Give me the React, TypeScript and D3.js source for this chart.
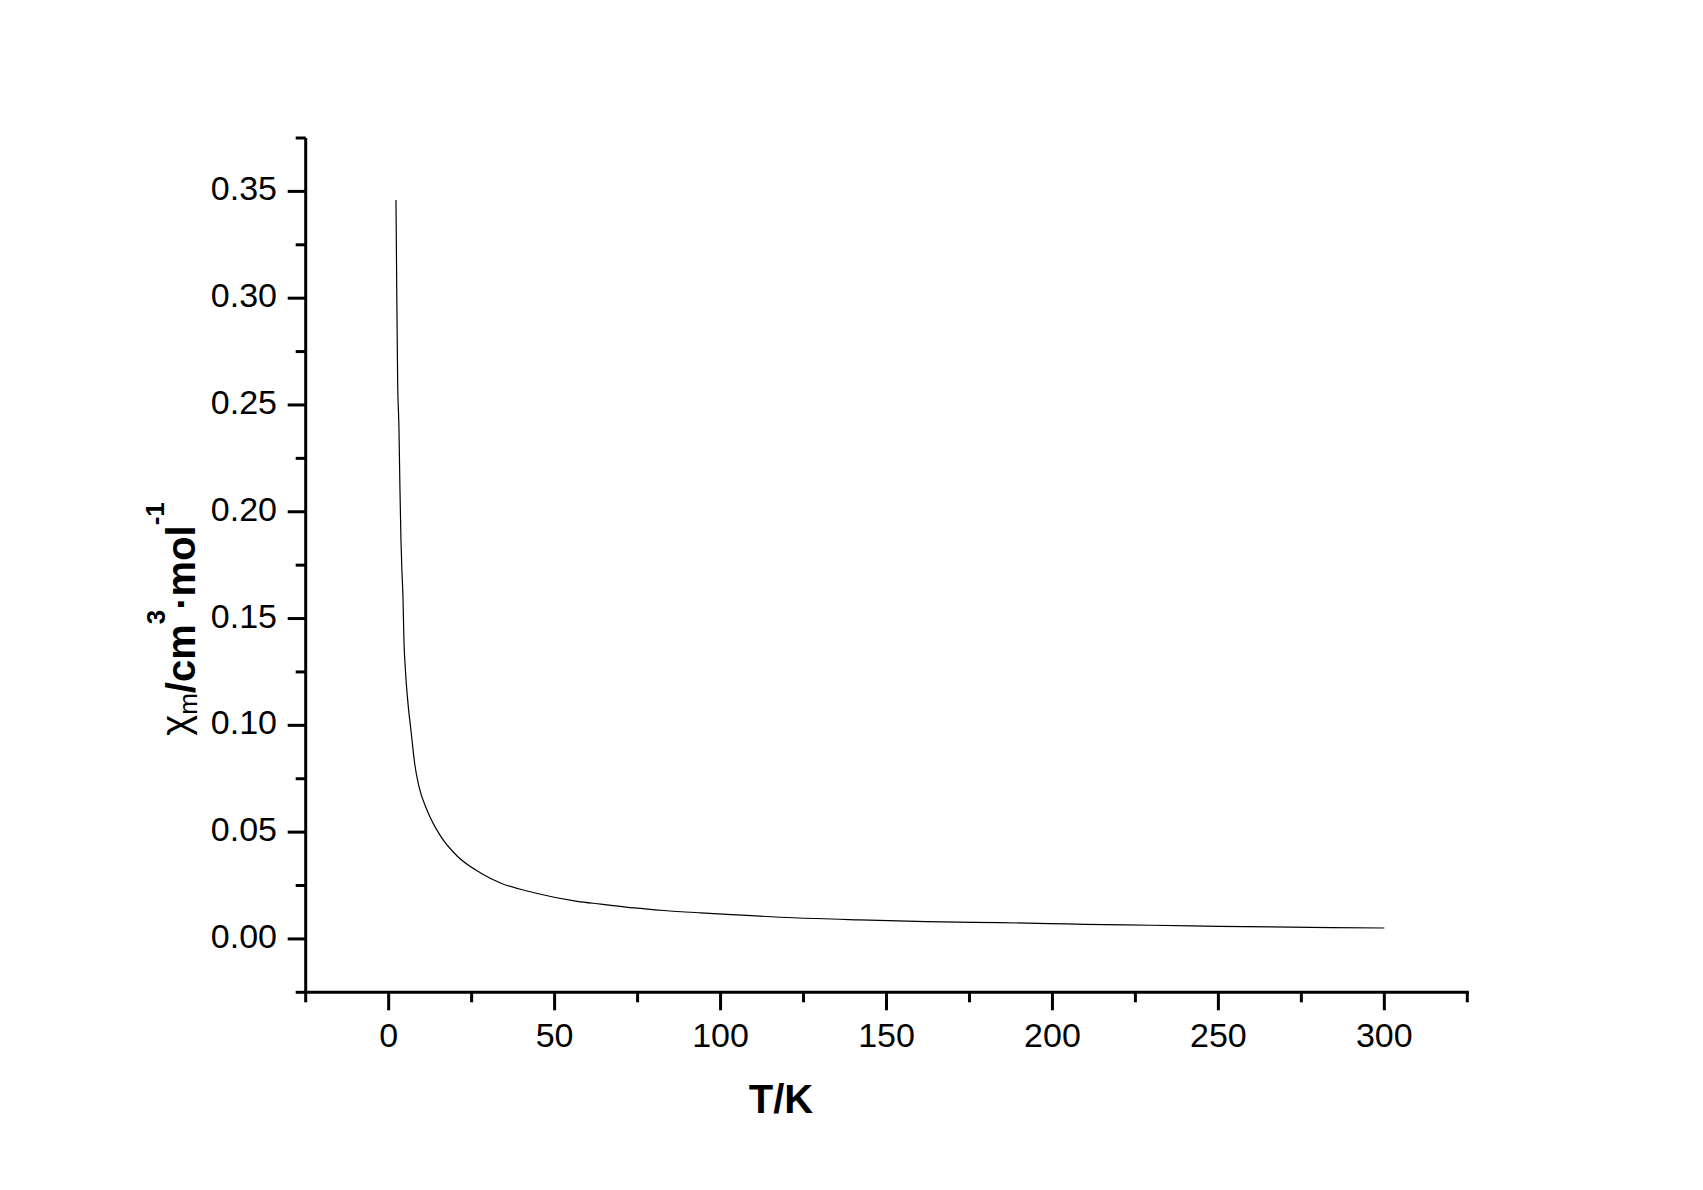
import React from 'react';
import * as d3 from 'd3';

// magnetic susceptibility
const tempK = [2.2, 2.4, 2.7, 3.1, 3.4, 3.7, 4.0, 4.3, 4.6, 5.1, 5.9, 6.8, 7.8, 9.1, 11.7, 15.7, 20.7, 27.7, 33.7, 43.8, 56.8, 63.9, 73.9, 82.9, 94, 102, 122, 142, 162, 184, 199, 210, 230, 250, 278, 300];
const chiM = [0.346, 0.31, 0.262, 0.239, 0.2105, 0.187, 0.172, 0.1605, 0.14, 0.1246, 0.109, 0.0965, 0.0825, 0.0715, 0.0598, 0.048, 0.0387, 0.0309, 0.0262, 0.0216, 0.0176, 0.0163, 0.0145, 0.0133, 0.0122, 0.0115, 0.0099, 0.0089, 0.0081, 0.0076, 0.0072, 0.0068, 0.0064, 0.0059, 0.0054, 0.0051];

const xMajor = [0, 50, 100, 150, 200, 250, 300];
const xMinor = [-25, 25, 75, 125, 175, 225, 275, 325];
const yMajor = [0, 0.05, 0.1, 0.15, 0.2, 0.25, 0.3, 0.35];
const yMinor = [-0.025, 0.025, 0.075, 0.125, 0.175, 0.225, 0.275, 0.325, 0.375];

const W = 1703;
const H = 1190;
const FONT = '"Liberation Sans", Arial, sans-serif';

export default function App() {
  const x = d3.scaleLinear().domain([-25, 325]).range([305.7, 1467.3]);
  const y = d3.scaleLinear().domain([-0.025, 0.375]).range([992.3, 138]);

  const pts = tempK.map((t, i) => [t, chiM[i]] as [number, number]);
  const line = d3.line<[number, number]>()
    .x(d => x(d[0]))
    .y(d => y(d[1]))
    .curve(d3.curveMonotoneX);

  const x0 = x(-25);
  const yBase = y(-0.025);

  return (
    <svg width={W} height={H} style={{ position: 'absolute', left: 0, top: 0, background: '#fff' }}>
      <rect x={0} y={0} width={W} height={H} fill="#fff" />
      <path d={line(pts) || ''} fill="none" stroke="#000" strokeWidth={1.2} />

      {/* y axis */}
      <line x1={x0} x2={x0} y1={y(0.375)} y2={yBase} stroke="#000" strokeWidth={3} />
      {yMajor.map(v => (
        <g key={'ym' + v}>
          <line x1={x0 - 18} x2={x0} y1={y(v)} y2={y(v)} stroke="#000" strokeWidth={3} />
          <text x={277} y={y(v) + 9} textAnchor="end" fontFamily={FONT} fontSize={34}>
            {d3.format('.2f')(v)}
          </text>
        </g>
      ))}
      {yMinor.map(v => (
        <line key={'yn' + v} x1={x0 - 10} x2={x0} y1={y(v)} y2={y(v)} stroke="#000" strokeWidth={3} />
      ))}

      {/* x axis */}
      <line x1={x0 - 1.5} x2={x(325) + 1.5} y1={yBase} y2={yBase} stroke="#000" strokeWidth={3} />
      {xMajor.map(v => (
        <g key={'xm' + v}>
          <line x1={x(v)} x2={x(v)} y1={yBase} y2={yBase + 18} stroke="#000" strokeWidth={3} />
          <text x={x(v)} y={yBase + 55} textAnchor="middle" fontFamily={FONT} fontSize={34}>
            {v}
          </text>
        </g>
      ))}
      {xMinor.map(v => (
        <line key={'xn' + v} x1={x(v)} x2={x(v)} y1={yBase} y2={yBase + 10} stroke="#000" strokeWidth={3} />
      ))}

      {/* axis titles */}
      <text x={781} y={1113} textAnchor="middle" fontFamily={FONT} fontSize={40} fontWeight="bold">T/K</text>
      <text transform="translate(195,619) rotate(-90)" textAnchor="middle" fontFamily={FONT} fontSize={40} fontWeight="bold">
        <tspan fontWeight="normal" dy={-6}>χ</tspan>
        <tspan fontWeight="normal" fontSize={26} dy={8}>m</tspan>
        <tspan dy={-2}>/cm</tspan>
        <tspan fontSize={26} dy={-30}>3</tspan>
        <tspan dy={30}>·mol</tspan>
        <tspan fontSize={26} dy={-31}>-1</tspan>
      </text>
    </svg>
  );
}
